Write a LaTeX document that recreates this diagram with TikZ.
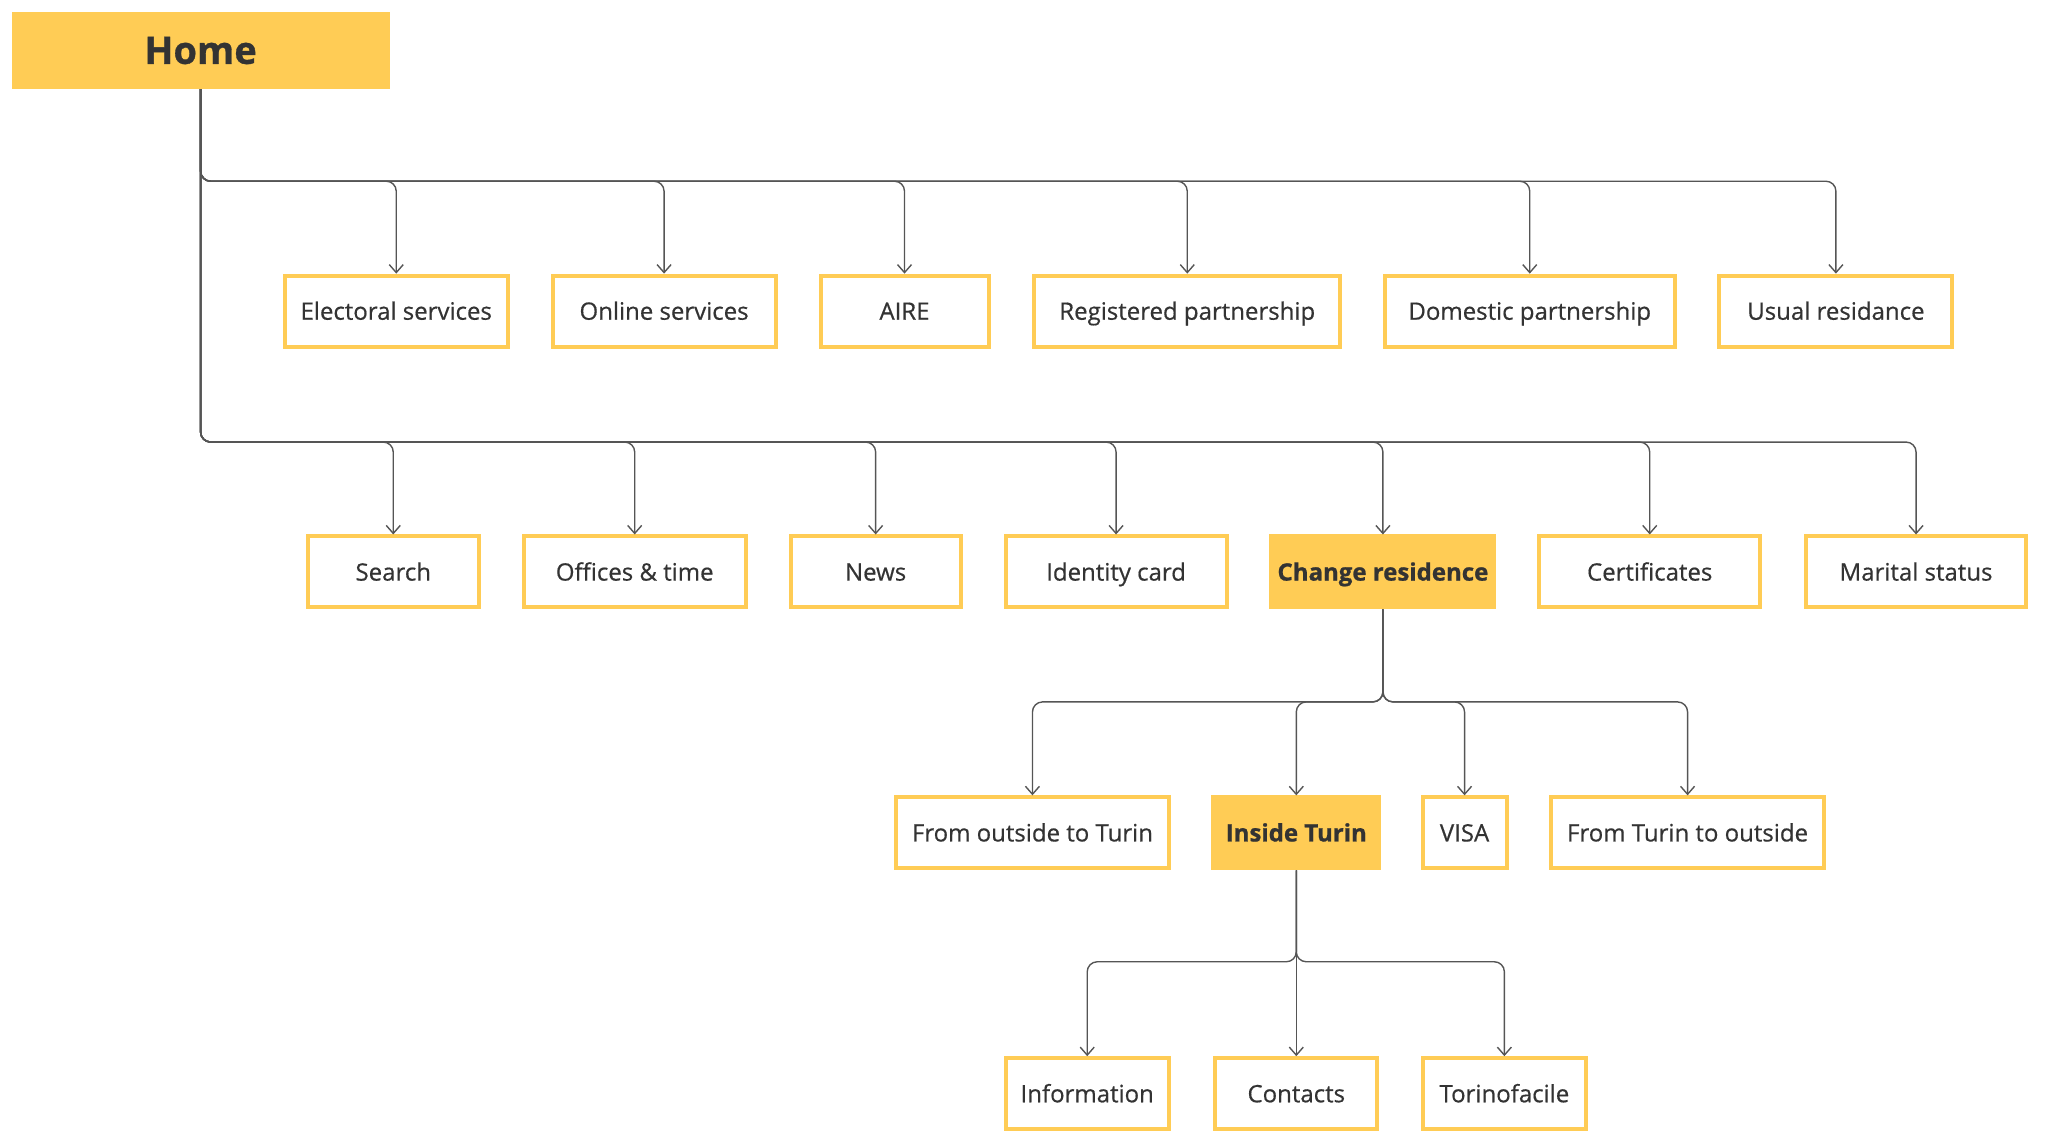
\documentclass[tikz,border=0pt]{standalone}
\usepackage{fontspec}
\setmainfont{Open Sans}[UprightFeatures={FakeBold=0.5}, BoldFeatures={FakeBold=0.8}]
\usetikzlibrary{arrows.meta}
\definecolor{ylw}{HTML}{FFCC55}
\definecolor{txt}{HTML}{333333}
\definecolor{ln}{HTML}{555555}
\begin{document}
\begin{tikzpicture}[x=0.5pt,y=-0.5pt,
  box/.style={draw=ylw, line width=2pt, fill=white, minimum height=35.5pt, inner sep=0pt, text=txt, text height=8.6pt, text depth=0pt, font=\fontsize{12}{14}\selectfont},
  hibox/.style={box, fill=ylw, font=\fontsize{12}{14}\selectfont\bfseries},
  conn/.style={draw=ln, line width=0.7pt, rounded corners=5pt, -{Straight Barb[length=4pt,width=7pt]}}]
\useasboundingbox (0,0) rectangle (2048,1142);
\begin{scope}[scale=0.9956]
% Home
\node[fill=ylw, minimum width=189pt, minimum height=38.5pt, inner sep=0pt, text=txt, text height=13.6pt, text depth=0pt, font=\fontsize{19}{22}\selectfont\bfseries] (home) at (201.5,50.5) {Home};
% row 1
\node[box, minimum width=111.5pt] (elec) at (398,312.5) {Electoral services};
\node[box, minimum width=111.5pt] (onl) at (667,312.5) {Online services};
\node[box, minimum width=84pt] (aire) at (908.5,312.5) {AIRE};
\node[box, minimum width=153pt] (reg) at (1192.5,312.5) {Registered partnership};
\node[box, minimum width=145pt] (dom) at (1536.5,312.5) {Domestic partnership};
\node[box, minimum width=116.5pt] (usu) at (1844,312.5) {Usual residance};
% row 2
\node[box, minimum width=85.5pt] (sea) at (395,574.5) {Search};
\node[box, minimum width=111pt] (off) at (637.5,574.5) {Offices \& time};
\node[box, minimum width=85pt] (news) at (879.5,574.5) {News};
\node[box, minimum width=110.5pt] (idc) at (1121,574.5) {Identity card};
\node[hibox, minimum width=111.5pt] (chg) at (1389,574.5) {Change residence};
\node[box, minimum width=110.5pt] (cert) at (1657,574.5) {Certificates};
\node[box, minimum width=110pt] (mar) at (1924.5,574.5) {Marital status};
% row 3
\node[box, minimum width=136.5pt] (fot) at (1037,836.5) {From outside to Turin};
\node[hibox, minimum width=83pt] (ins) at (1302,836.5) {Inside Turin};
\node[box, minimum width=42pt] (visa) at (1471,836.5) {VISA};
\node[box, minimum width=136.5pt] (fto) at (1695,836.5) {From Turin to outside};
% row 4
\node[box, minimum width=81.5pt] (info) at (1092,1098.5) {Information};
\node[box, minimum width=81pt] (cont) at (1302,1098.5) {Contacts};
\node[box, minimum width=81.5pt] (tor) at (1511,1098.5) {Torinofacile};
% buses
\coordinate (b1) at (0,182);
\coordinate (b2) at (0,444);
\coordinate (b3) at (0,705);
\coordinate (b4) at (0,966);
\end{scope}
% connectors
\foreach \c in {elec,onl,aire,reg,dom,usu}
  \draw[conn] (home.south) |- (\c.north |- b1) -- (\c.north);
\foreach \c in {sea,off,news,idc,chg,cert,mar}
  \draw[conn] (home.south) |- (\c.north |- b2) -- (\c.north);
\foreach \c in {fot,ins,visa,fto}
  \draw[conn] (chg.south) |- (\c.north |- b3) -- (\c.north);
\foreach \c in {info,tor}
  \draw[conn] (ins.south) |- (\c.north |- b4) -- (\c.north);
\draw[conn] (ins.south) -- (cont.north);
\end{tikzpicture}
\end{document}
